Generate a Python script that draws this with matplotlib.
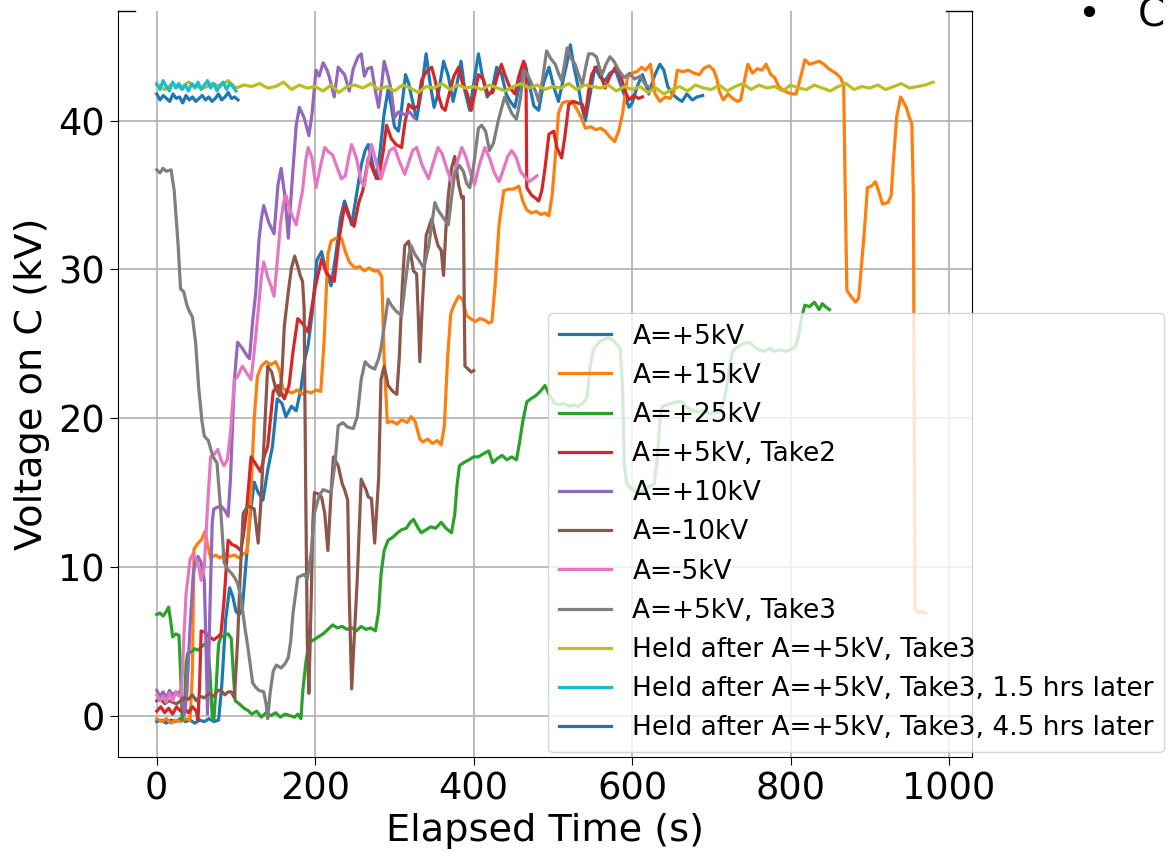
import matplotlib.pyplot as plt
import numpy as np

# (elapsed time s, voltage on C kV)
a5 = np.array([
    [0, -0.4], [6, -0.3], [12, -0.5], [18, -0.3], [24, -0.4], [30, -0.2], [36, -0.4], [42, -0.3],
    [48, -0.5], [54, -0.3], [60, -0.4], [66, -0.2], [72, -0.4], [78, -0.3], [82, 2.0], [87, 6.5],
    [92, 8.6], [96, 8.0], [100, 7.0], [104, 6.8], [108, 7.2], [113, 10.5], [118, 13.5], [123, 15.7],
    [128, 15.0], [134, 14.5], [140, 16.5], [146, 18.1], [152, 21.3], [158, 21.0], [163, 20.1],
    [170, 20.8], [176, 20.5], [182, 22.0], [187, 24.0], [191, 24.9], [196, 27.0], [202, 30.6],
    [208, 31.2], [214, 29.8], [220, 28.9], [226, 31.0], [232, 33.5], [237, 34.6], [242, 33.8],
    [246, 33.0], [252, 35.0], [258, 37.0], [263, 38.0], [267, 38.4], [272, 37.2], [277, 36.1],
    [282, 38.0], [287, 40.5], [292, 42.1], [296, 41.0], [300, 39.6], [305, 39.3], [309, 40.8],
    [314, 43.1], [318, 42.5], [322, 41.5], [328, 40.1], [334, 42.0], [340, 44.5], [345, 42.5],
    [350, 40.9], [356, 42.0], [362, 44.0], [368, 43.0], [374, 41.3], [379, 42.5], [384, 44.0],
    [389, 42.0], [395, 40.7], [400, 42.5], [406, 44.5], [411, 43.0], [417, 41.6], [423, 42.0],
    [429, 43.6], [435, 43.2], [441, 41.8], [446, 41.3], [452, 40.9], [458, 42.5], [465, 43.8],
    [470, 42.5], [476, 41.0], [482, 40.7], [488, 42.5], [495, 43.6], [501, 42.3], [507, 41.3],
    [514, 43.0], [519, 44.2], [522, 45.1], [527, 43.5], [533, 42.0], [537, 40.8], [541, 40.0],
    [547, 41.8], [553, 43.6], [560, 42.9], [566, 42.7], [572, 43.2], [579, 43.4], [585, 42.5],
    [591, 41.6], [596, 40.9], [600, 41.2], [607, 42.4], [613, 43.1], [617, 42.5], [621, 41.8],
    [628, 43.0], [635, 43.8], [640, 43.4], [645, 42.3], [651, 41.8], [657, 41.5], [663, 41.3],
    [669, 41.8], [676, 41.4], [682, 41.6], [689, 41.7]])

a15 = np.array([
    [0, -0.2], [6, -0.4], [12, -0.2], [18, -0.5], [24, -0.3], [30, -0.4], [36, -0.2], [42, -0.3],
    [45, 3.0], [47, 11.2], [52, 11.6], [56, 11.8], [61, 12.4], [64, 11.5], [68, 10.6], [74, 10.8],
    [80, 10.6], [86, 10.9], [92, 10.7], [98, 10.8], [104, 10.6], [110, 10.9], [114, 11.0],
    [118, 14.0], [123, 20.0], [127, 22.8], [132, 23.5], [138, 23.8], [144, 23.6], [150, 23.8],
    [155, 23.2], [159, 22.0], [165, 21.8], [171, 21.7], [177, 21.9], [183, 21.6], [189, 21.8],
    [195, 21.7], [201, 21.9], [207, 21.8], [211, 25.0], [216, 31.0], [220, 31.9], [226, 32.1],
    [233, 32.1], [238, 31.2], [243, 30.5], [250, 30.1], [256, 30.2], [262, 29.9], [268, 30.1],
    [274, 29.9], [280, 29.9], [284, 29.5], [287, 24.0], [291, 19.7], [297, 19.8], [303, 19.6],
    [309, 19.9], [316, 19.7], [321, 20.1], [326, 19.8], [332, 18.6], [336, 18.4], [342, 18.6],
    [348, 18.3], [354, 18.5], [359, 18.2], [363, 19.5], [367, 24.0], [371, 27.0], [375, 27.6],
    [381, 28.2], [386, 28.0], [391, 26.9], [396, 26.7], [402, 26.5], [408, 26.7], [414, 26.6],
    [419, 26.4], [423, 26.5], [427, 28.9], [432, 33.0], [438, 35.3], [444, 35.4], [450, 35.4],
    [457, 35.6], [462, 34.6], [467, 34.0], [473, 33.8], [479, 33.9], [485, 33.7], [490, 33.8],
    [495, 33.6], [499, 35.0], [503, 37.5], [507, 40.5], [512, 41.2], [518, 41.3], [524, 41.3],
    [530, 40.8], [536, 40.2], [541, 39.5], [548, 39.6], [554, 39.4], [560, 39.5], [566, 39.3],
    [572, 38.9], [578, 38.6], [583, 39.3], [588, 40.5], [594, 42.9], [600, 43.2], [606, 43.3],
    [612, 43.6], [617, 43.4], [623, 43.8], [629, 41.8], [635, 41.3], [642, 41.6], [648, 41.5],
    [653, 42.0], [657, 43.4], [664, 43.3], [671, 43.4], [678, 43.2], [685, 43.1], [690, 43.5],
    [697, 43.7], [703, 43.4], [707, 42.8], [710, 42.0], [715, 41.4], [721, 41.8], [727, 41.5],
    [733, 41.3], [737, 41.4], [741, 42.5], [746, 43.8], [752, 43.2], [758, 43.5], [764, 43.4],
    [769, 43.8], [775, 43.1], [780, 42.9], [785, 42.3], [790, 42.1], [796, 41.9], [802, 41.8],
    [807, 41.8], [813, 43.0], [818, 44.1], [824, 43.8], [830, 43.9], [836, 44.0], [842, 43.8],
    [848, 43.5], [857, 43.2], [863, 42.9], [867, 42.4], [869, 35.0], [871, 28.6], [876, 28.2],
    [882, 27.8], [886, 28.1], [889, 30.0], [893, 32.5], [897, 35.5], [902, 35.6], [907, 35.9],
    [911, 35.3], [916, 34.4], [923, 34.5], [927, 35.0], [930, 37.5], [934, 40.3], [939, 41.6],
    [943, 41.2], [946, 40.9], [950, 40.2], [953, 39.8], [955, 35.0], [957, 7.2], [961, 6.9],
    [965, 7.0], [970, 6.9]])

a25 = np.array([
    [0, 6.8], [4, 6.9], [8, 6.7], [12, 7.0], [15, 7.3], [18, 6.2], [20, 5.3], [24, 5.5], [28, 5.4],
    [30, 3.0], [32, -0.3], [35, 0.5], [37, 3.5], [39, 4.2], [44, 4.3], [48, 4.5], [52, 4.4],
    [56, 4.6], [60, 4.8], [64, 4.9], [67, 3.0], [70, 0.0], [72, -0.3], [75, 2.0], [78, 4.8],
    [81, 5.3], [86, 5.4], [90, 5.5], [94, 5.2], [97, 2.5], [99, 1.0], [104, 0.8], [110, 0.5],
    [115, 0.35], [120, 0.1], [126, 0.3], [132, -0.1], [138, 0.2], [144, 0.0], [150, 0.2],
    [156, -0.1], [162, 0.1], [168, 0.0], [174, -0.1], [178, 0.1], [182, -0.2], [184, 1.5],
    [188, 3.5], [192, 4.9], [198, 5.1], [204, 5.3], [210, 5.5], [216, 5.8], [222, 6.1], [228, 5.9],
    [234, 6.0], [240, 5.8], [246, 5.9], [252, 5.7], [258, 6.0], [264, 5.8], [270, 5.9], [276, 5.7],
    [280, 7.0], [283, 9.5], [287, 11.1], [292, 11.8], [298, 12.0], [304, 12.3], [309, 12.5],
    [315, 12.6], [320, 13.0], [324, 13.2], [330, 12.6], [334, 12.3], [340, 12.5], [346, 12.7],
    [352, 12.6], [359, 13.0], [365, 12.6], [372, 12.3], [376, 13.5], [379, 15.5], [382, 16.8],
    [387, 17.0], [394, 17.2], [400, 17.4], [406, 17.4], [412, 17.6], [419, 17.8], [424, 17.0],
    [430, 17.3], [436, 17.5], [442, 17.2], [448, 17.4], [454, 17.2], [458, 18.4], [462, 19.8],
    [467, 21.1], [472, 21.3], [478, 21.5], [484, 21.8], [490, 22.2], [496, 21.5], [502, 21.0],
    [508, 20.9], [514, 21.0], [520, 20.8], [526, 20.9], [532, 20.8], [538, 21.0], [543, 21.4],
    [547, 23.5], [551, 24.6], [558, 25.1], [564, 25.3], [570, 25.4], [575, 25.3], [580, 25.0],
    [585, 24.7], [588, 22.0], [590, 17.0], [593, 15.6], [598, 15.3], [604, 15.1], [610, 15.0],
    [616, 15.2], [622, 15.4], [628, 15.6], [632, 17.5], [635, 19.8], [638, 20.8], [644, 20.9],
    [650, 21.0], [656, 21.1], [663, 21.1], [670, 20.7], [677, 20.5], [684, 20.4], [691, 20.5],
    [698, 20.3], [704, 20.4], [710, 20.4], [715, 21.0], [719, 22.0], [723, 23.5], [727, 24.5],
    [733, 24.8], [740, 25.0], [748, 25.1], [754, 24.8], [760, 24.6], [767, 24.5], [774, 24.7],
    [780, 24.5], [787, 24.6], [794, 24.5], [800, 24.6], [806, 24.8], [810, 25.5], [814, 26.8],
    [818, 27.6], [824, 27.5], [830, 27.8], [836, 27.3], [840, 27.7], [844, 27.5], [849, 27.3]])

a5_take2 = np.array([
    [0, 0.3], [5, 0.6], [10, 0.2], [15, 0.5], [20, 0.1], [25, 0.6], [30, 0.3], [35, 0.5], [40, 0.2],
    [45, 0.6], [50, 0.3], [52, -0.3], [54, 2.0], [56, 5.7], [61, 5.6], [66, 5.3], [72, 5.1],
    [77, 5.3], [81, 5.5], [85, 7.8], [90, 11.8], [95, 11.5], [100, 11.4], [106, 11.1], [109, 12.0],
    [113, 13.6], [119, 17.4], [124, 17.0], [131, 16.4], [136, 17.5], [140, 18.1], [147, 21.8],
    [153, 22.2], [161, 21.3], [167, 22.2], [172, 24.5], [178, 26.7], [185, 26.3], [191, 25.8],
    [195, 27.2], [200, 28.8], [208, 30.7], [214, 29.8], [220, 29.4], [224, 29.2], [230, 32.0],
    [237, 34.3], [243, 33.5], [249, 32.9], [255, 34.5], [260, 35.3], [267, 37.5], [275, 36.4],
    [280, 36.1], [286, 38.0], [290, 39.7], [296, 38.8], [302, 38.4], [309, 38.2], [313, 39.8],
    [318, 41.1], [324, 40.8], [330, 41.0], [334, 42.7], [340, 43.3], [347, 43.6], [351, 42.8],
    [355, 41.8], [360, 40.9], [364, 40.7], [370, 42.0], [375, 43.0], [381, 43.6], [386, 42.5],
    [392, 41.8], [397, 40.7], [402, 42.0], [406, 43.1], [412, 42.8], [418, 41.8], [424, 41.9],
    [430, 43.0], [435, 43.8], [440, 43.0], [446, 42.2], [452, 41.8], [457, 43.0], [463, 44.0],
    [466, 43.5], [467, 35.5], [473, 35.0], [478, 34.8], [482, 34.6], [486, 35.3], [490, 36.8],
    [495, 39.1], [501, 39.3], [505, 38.2], [511, 37.5], [515, 38.9], [520, 41.1], [526, 41.3],
    [531, 41.2], [537, 41.1], [541, 40.4], [545, 42.0], [549, 43.1], [554, 43.6], [558, 43.6],
    [562, 42.8], [566, 42.2], [572, 43.0], [579, 43.6], [585, 43.1], [591, 42.0], [596, 41.4],
    [602, 41.7], [608, 41.5], [613, 41.6]])

a10 = np.array([
    [0, 1.7], [4, 1.3], [8, 1.6], [12, 1.2], [16, 1.7], [20, 1.4], [24, 1.6], [28, 1.5], [30, 1.7],
    [33, 0.8], [35, 0.1], [38, 1.5], [42, 6.0], [46, 9.5], [49, 10.5], [52, 10.7], [56, 10.3],
    [60, 9.1], [62, 5.0], [64, 0.1], [67, 7.0], [70, 13.0], [72, 13.9], [76, 14.0], [81, 14.1],
    [86, 13.8], [90, 13.4], [93, 15.9], [96, 20.0], [98, 22.6], [102, 25.1], [108, 24.7],
    [114, 24.2], [117, 24.0], [121, 26.5], [125, 28.5], [129, 32.0], [132, 33.4], [135, 34.3],
    [141, 33.2], [148, 32.4], [153, 35.7], [157, 36.8], [162, 34.8], [166, 32.1], [170, 35.3],
    [173, 37.5], [176, 39.7], [180, 40.9], [186, 40.2], [192, 39.0], [196, 40.5], [201, 43.4],
    [205, 43.0], [210, 43.9], [215, 43.4], [218, 42.9], [224, 41.6], [229, 43.6], [237, 43.1],
    [243, 42.0], [248, 43.5], [254, 44.3], [258, 44.5], [262, 43.0], [266, 43.5], [271, 43.6],
    [276, 42.0], [280, 40.9], [284, 42.5], [287, 44.0], [292, 43.0], [296, 42.0], [300, 40.2],
    [305, 40.6], [309, 40.5], [314, 40.4], [319, 40.6], [325, 40.2]])

am10 = np.array([
    [0, 1.0], [5, 1.1], [10, 0.8], [15, 1.0], [20, 0.9], [25, 0.8], [30, 1.0], [35, 1.2], [40, 1.1],
    [45, 1.4], [50, 1.0], [55, 1.3], [60, 1.2], [66, 1.5], [72, 1.3], [77, 1.7], [81, 1.7],
    [86, 1.4], [90, 1.6], [94, 1.6], [98, 1.2], [102, 5.0], [105, 9.1], [109, 13.6], [115, 14.1],
    [119, 14.0], [123, 13.9], [128, 11.6], [131, 14.0], [135, 18.0], [138, 21.3], [140, 23.5],
    [145, 23.1], [150, 22.0], [155, 21.5], [158, 23.0], [161, 26.2], [166, 28.5], [170, 30.1],
    [174, 30.9], [178, 30.2], [181, 29.6], [184, 29.2], [186, 27.4], [188, 15.0], [190, 5.0],
    [192, 1.5], [195, 8.0], [197, 13.0], [199, 15.0], [204, 14.9], [208, 14.7], [212, 13.6],
    [216, 11.1], [220, 15.0], [223, 17.4], [229, 16.8], [234, 15.6], [237, 15.2], [241, 14.5],
    [243, 8.0], [246, 1.8], [249, 5.0], [253, 9.1], [258, 15.9], [264, 15.2], [267, 14.7],
    [271, 14.6], [275, 11.6], [280, 15.9], [283, 22.6], [287, 23.5], [292, 22.2], [298, 21.8],
    [303, 21.6], [306, 24.0], [310, 29.0], [313, 31.6], [318, 31.9], [324, 29.9], [328, 29.7],
    [330, 27.0], [332, 23.8], [335, 27.5], [340, 32.3], [347, 33.4], [351, 32.4], [355, 31.6],
    [359, 31.3], [362, 29.6], [365, 32.8], [368, 35.0], [372, 36.8], [376, 37.6], [381, 35.7],
    [385, 34.8], [387, 34.9], [388, 28.0], [389, 23.5], [393, 23.3], [397, 23.1], [400, 23.2]])

am5 = np.array([
    [0, 1.4], [4, 1.0], [8, 1.3], [12, 0.9], [16, 1.5], [20, 1.0], [24, 1.6], [28, 1.3], [31, 1.4],
    [34, 5.0], [37, 8.2], [42, 10.5], [46, 10.9], [50, 10.5], [53, 10.0], [56, 9.1], [60, 10.0],
    [64, 14.0], [68, 17.4], [73, 17.6], [77, 17.9], [81, 17.2], [85, 16.8], [89, 17.2], [93, 19.0],
    [98, 22.6], [102, 22.8], [108, 23.5], [114, 23.0], [119, 22.6], [123, 24.5], [128, 27.2],
    [132, 29.5], [135, 30.5], [140, 29.5], [144, 28.9], [148, 28.2], [152, 30.5], [156, 33.0],
    [160, 34.5], [163, 35.0], [167, 34.2], [171, 33.6], [176, 33.0], [180, 34.2], [184, 35.3],
    [188, 37.3], [191, 38.2], [196, 37.5], [201, 35.5], [206, 36.8], [212, 38.2], [217, 37.9],
    [222, 37.7], [228, 36.8], [233, 36.1], [238, 36.3], [242, 37.5], [246, 38.4], [252, 37.5],
    [258, 35.9], [262, 35.6], [266, 37.0], [271, 38.4], [277, 37.2], [283, 36.1], [288, 37.0],
    [294, 38.0], [300, 38.2], [306, 37.3], [313, 36.4], [318, 37.2], [323, 38.0], [328, 38.2],
    [335, 37.0], [343, 36.1], [348, 37.0], [355, 38.2], [360, 37.8], [366, 36.8], [372, 35.9],
    [378, 37.0], [385, 38.2], [390, 37.6], [396, 36.5], [401, 35.7], [407, 37.0], [414, 38.2],
    [420, 37.5], [426, 36.5], [432, 35.9], [438, 36.8], [443, 37.6], [448, 38.0], [454, 37.5],
    [459, 36.6], [465, 36.2], [470, 35.9], [475, 36.1], [480, 36.3]])

a5_take3 = np.array([
    [0, 36.7], [4, 36.5], [8, 36.8], [12, 36.6], [18, 36.7], [22, 35.3], [27, 31.6], [30, 28.7],
    [34, 28.5], [38, 27.6], [41, 27.2], [45, 26.8], [49, 25.1], [53, 22.0], [57, 19.8], [60, 18.8],
    [65, 18.5], [71, 17.4], [76, 17.0], [81, 13.6], [85, 10.3], [90, 9.8], [94, 9.6], [98, 9.3],
    [102, 8.9], [106, 8.0], [111, 6.0], [115, 4.6], [121, 2.2], [125, 1.9], [129, 1.7], [135, 1.6],
    [138, 0.8], [140, -0.2], [143, 1.5], [147, 3.0], [151, 3.4], [157, 3.2], [162, 3.5],
    [166, 3.9], [169, 5.0], [172, 6.9], [178, 9.3], [182, 9.4], [186, 9.5], [190, 9.2],
    [195, 11.0], [199, 13.6], [205, 14.8], [210, 15.2], [215, 15.1], [220, 15.0], [225, 17.0],
    [229, 19.5], [235, 19.7], [241, 19.4], [248, 19.3], [253, 20.1], [258, 22.6], [263, 23.8],
    [268, 23.5], [275, 23.3], [280, 24.0], [283, 24.7], [288, 26.5], [292, 28.0], [296, 27.6],
    [302, 27.2], [309, 26.9], [313, 28.8], [318, 30.9], [321, 31.6], [326, 31.0], [330, 30.7],
    [337, 30.1], [343, 31.5], [347, 33.0], [351, 34.5], [355, 34.0], [360, 33.6], [368, 33.0],
    [372, 34.8], [376, 36.4], [382, 37.0], [387, 36.6], [391, 35.8], [395, 35.5], [400, 37.0],
    [406, 39.5], [410, 39.7], [415, 39.3], [420, 38.0], [425, 38.5], [431, 40.0], [436, 41.0],
    [439, 41.6], [444, 41.0], [448, 40.5], [454, 40.1], [459, 41.5], [463, 43.4], [468, 43.1],
    [473, 42.5], [478, 42.0], [482, 41.3], [487, 42.8], [492, 44.7], [497, 44.2], [503, 43.8],
    [507, 43.2], [511, 42.7], [515, 43.9], [518, 44.9], [523, 44.2], [528, 43.8], [533, 43.0],
    [537, 42.4], [541, 43.5], [545, 44.5], [550, 44.5], [555, 44.3], [559, 43.5], [562, 43.1],
    [567, 43.8], [572, 44.3], [577, 44.0], [583, 43.4], [590, 42.9], [597, 43.2], [603, 42.8],
    [610, 43.0], [617, 42.4], [625, 42.2]])

# held runs, sampled every 10 s (held) and every 4 s (the two later checks)
held_v = [42.4, 42.1, 42.5, 42.2, 42.6, 42.3, 42.2, 42.5, 42.3, 42.7, 42.2, 42.4, 42.3, 42.5,
          42.2, 42.3, 42.6, 42.1, 42.4, 42.2, 42.3, 42.0, 42.4, 41.9, 42.3, 42.4, 42.2, 42.5,
          42.1, 42.3, 42.0, 42.4, 42.2, 41.9, 42.3, 42.2, 42.5, 42.1, 42.4, 42.2, 42.3, 42.1,
          42.4, 42.2, 42.0, 42.3, 42.5, 42.2, 42.4, 42.1, 42.3, 42.2, 42.5, 42.1, 42.4, 42.3,
          42.2, 42.4, 42.0, 42.3, 42.1, 42.3, 41.9, 42.2, 41.8, 42.1, 42.3, 42.0, 42.4, 42.2,
          42.1, 42.4, 42.0, 42.3, 42.5, 42.1, 42.4, 42.2, 42.3, 42.0, 42.4, 42.2, 42.1, 42.4,
          42.2, 42.0, 42.3, 42.5, 42.1, 42.3, 42.2, 42.4, 42.1, 42.3, 42.5, 42.2, 42.3, 42.4, 42.6]
held_1h5_v = [42.5, 42.1, 42.7, 42.3, 42.0, 42.6, 42.2, 42.5, 42.1, 42.4, 42.0, 42.5, 42.2,
              42.6, 42.1, 42.4, 42.7, 42.2, 42.5, 42.0, 42.4, 42.6, 42.1, 42.5, 42.3, 42.0]
held_4h5_v = [41.8, 41.4, 41.7, 41.5, 41.3, 41.8, 41.5, 41.6, 41.2, 41.7, 41.4, 41.6, 41.3,
              41.5, 41.7, 41.4, 41.6, 41.3, 41.5, 41.8, 41.4, 41.6, 41.9, 41.5, 41.6, 41.4]

held_t = np.arange(len(held_v)) * 10.0
held_1h5_t = np.arange(len(held_1h5_v)) * 4.0
held_4h5_t = np.arange(len(held_4h5_v)) * 4.1

runs = [
    (a5[:, 0], a5[:, 1], 'A=+5kV'),
    (a15[:, 0], a15[:, 1], 'A=+15kV'),
    (a25[:, 0], a25[:, 1], 'A=+25kV'),
    (a5_take2[:, 0], a5_take2[:, 1], 'A=+5kV, Take2'),
    (a10[:, 0], a10[:, 1], 'A=+10kV'),
    (am10[:, 0], am10[:, 1], 'A=-10kV'),
    (am5[:, 0], am5[:, 1], 'A=-5kV'),
    (a5_take3[:, 0], a5_take3[:, 1], 'A=+5kV, Take3'),
    (held_t, held_v, 'Held after A=+5kV, Take3'),
    (held_1h5_t, held_1h5_v, 'Held after A=+5kV, Take3, 1.5 hrs later'),
    (held_4h5_t, held_4h5_v, 'Held after A=+5kV, Take3, 4.5 hrs later'),
]

fig = plt.figure(figsize=(11.69, 8.52), dpi=100)
ax = fig.add_axes([0.1009, 0.1115, 0.7306, 0.8756])

for t, v, lab in runs:
    ax.plot(t, v, lw=2.3, label=lab)

ax.grid(True, lw=1.2)
ax.set_xticks([0, 200, 400, 600, 800, 1000])
ax.set_yticks([0, 10, 20, 30, 40])
ax.tick_params(labelsize=26.5, length=6)
ax.set_xlabel('Elapsed Time (s)', fontsize=27.5, labelpad=4)
ax.set_ylabel('Voltage on C (kV)', fontsize=27.5, labelpad=6)

# top frame only shows at the two corners
ax.spines['top'].set_visible(False)
ax.plot([0, 0.02], [1, 1], transform=ax.transAxes, color='black', lw=1, clip_on=False)
ax.plot([0.9696, 1], [1, 1], transform=ax.transAxes, color='black', lw=1, clip_on=False)

ax.legend(loc='lower left', bbox_to_anchor=(0.5035, 0.0067), borderaxespad=0,
          fontsize=19)

fig.text(0.922, 0.982, '\u2022   C', fontsize=28, va='center', ha='left')

fig.savefig('out.png', dpi=100)
